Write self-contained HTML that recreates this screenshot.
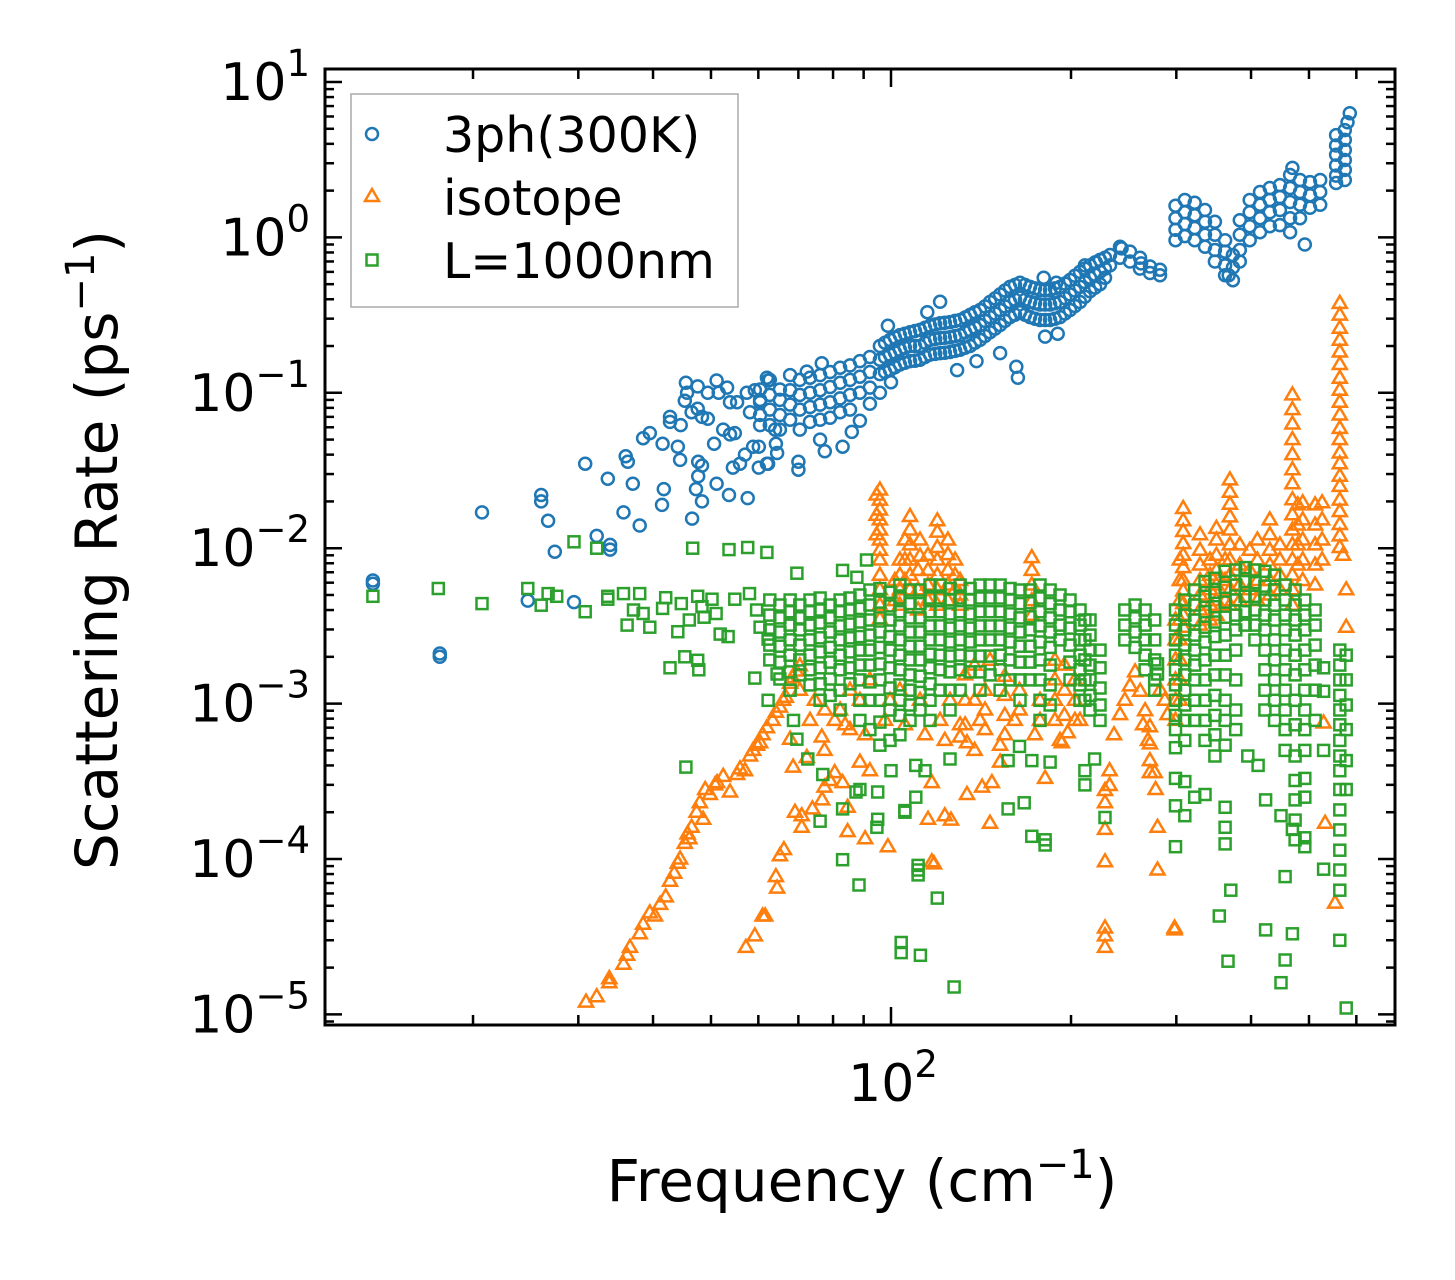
<!DOCTYPE html>
<html><head><meta charset="utf-8"><style>
html,body{margin:0;padding:0;background:#fff;}
svg text{font-family:"DejaVu Sans","Liberation Sans",sans-serif;fill:#000;}
</style></head><body>
<svg id="chart" width="1455" height="1275" viewBox="0 0 1455 1275" xmlns="http://www.w3.org/2000/svg">
<rect width="1455" height="1275" fill="#fff"/>
<g id="marks"></g>
<g id="axes"></g>
<g id="legend">
<rect x="351" y="94" width="387" height="213" fill="#fff" fill-opacity="0.8" stroke="#aaa" stroke-width="1.5"/>
<g><circle cx="372" cy="134" r="6" fill="none" stroke="#1f77b4" stroke-width="2.5"/><text x="443" y="152" font-size="49">3ph(300K)</text></g>
<g><path d="M372,189 l7,12 l-14,0 z" fill="none" stroke="#ff7f0e" stroke-width="2.5"/><text x="443" y="215" font-size="49">isotope</text></g>
<g><rect x="366.5" y="254.5" width="11" height="11" fill="none" stroke="#2ca02c" stroke-width="2.5"/><text x="443" y="278" font-size="49">L=1000nm</text></g>
</g>
<text x="862" y="1201" font-size="58" text-anchor="middle">Frequency (cm<tspan font-size="40" dy="-23">−1</tspan><tspan dy="23">)</tspan></text>
<text transform="translate(117,550) rotate(-90)" font-size="58" text-anchor="middle">Scattering Rate (ps<tspan font-size="40" dy="-23">−1</tspan><tspan dy="23">)</tspan></text>
</svg>
<script>
const blueFreq=[13.6,17.6,20.7,24.7,26.0,26.7,27.4,29.5,30.8,32.2,33.6,33.9,35.7,36.0,36.3,37.0,38.0,38.5,39.5,41.4,41.5,41.7,42.7,44.0,44.4,44.5,45.2,45.4,45.6,46.4,46.5,47.2,47.5,47.6,48.3,49.4,50.6,51.1,51.5,52.4,53.2,53.6,53.8,54.4,54.8,55.3,55.9,57.0,57.4,57.6,58.1,58.8,59.2,60.1,60.4,62.0,62.3,62.7,64.0,64.2,64.5,65.2,67.8,70.0,70.4,72.3,73.2,76.1,76.6,77.5,79.1,82.2,83.0,85.4,86.0,88.7,92.2,95.8,98.8,99.6,100,103.5,107.6,111.8,115,116.2,120.8,125.5,129,130.5,135.6,139,140.9,146.4,152.2,158.1,162,163,164.3,170.8,177.5,180,181,184.5,189,190,191.7,199.2,207,211,215.2,220,223.6,232.4,241.5,243,251,260.8,262,271.1,281.7,299,310,322,335,348,362,367,373,383,398,414,430,447,465,469,483,492,502,522,555,574,580,585,
97.7,101.5,105.5,109.7,114,118.5,123,128,133,138.2,143.6,149.3,155.1,161.2,167.5,174.1,181,188,195.4,203,211,219.4,228];
const blueRates=[[0.0062,0.0059],[0.0021,0.0020],[0.017],[0.0046],[0.022,0.020],[0.015],[0.0095],[0.0045],[0.035],[0.012],[0.028],[0.0098,0.0105],[0.017],[0.039],[0.036],[0.026],[0.014],[0.051],[0.055],[0.019],[0.047],[0.024],[0.07,0.065],[0.045],[0.037],[0.062],[0.089],[0.116],[0.10],[0.075],[0.0155],[0.024],[0.11,0.079],[0.036,0.029],[0.034,0.020,0.07],[0.10,0.068],[0.047],[0.026,0.12],[0.10],[0.058],[0.108],[0.022],[0.054,0.087],[0.033],[0.055],[0.087],[0.035],[0.040],[0.10],[0.021],[0.075],[0.045],[0.104],[0.045,0.033],[0.087,0.062,0.105,0.09,0.072],[0.035,0.125],[0.12,0.035],[0.121,0.097,0.078,0.062],[0.058],[0.047],[0.041],[0.105,0.09,0.072,0.058],[0.13,0.104,0.084,0.067],[0.032,0.036],[0.121,0.097,0.078,0.058],[0.137],[0.125,0.10,0.081,0.065],[0.13,0.104,0.084,0.067,0.05],[0.155],[0.042],[0.136,0.109,0.087,0.069],[0.145,0.116,0.092,0.075],[0.045],[0.15,0.121,0.097,0.078],[0.056],[0.16,0.127,0.10,0.066],[0.17,0.136,0.108,0.085],[0.2,0.163,0.132,0.10],[0.27],[0.219,0.176,0.14],[0.117],[0.235,0.189,0.152],[0.245,0.2,0.16],[0.254,0.2,0.163],[0.33],[0.27,0.219,0.176],[0.28,0.225,0.18,0.385],[0.285,0.228,0.183],[0.14],[0.294,0.235,0.189],[0.317,0.254,0.2],[0.16],[0.341,0.273,0.219],[0.384,0.307,0.245],[0.43,0.341,0.273,0.18],[0.48,0.384,0.307],[0.147],[0.125],[0.51,0.41,0.33],[0.48,0.384,0.307],[0.459,0.37,0.294],[0.55],[0.23],[0.459,0.37,0.294],[0.51],[0.24],[0.48,0.384,0.307],[0.532,0.43,0.341],[0.6,0.48,0.384],[0.66],[0.66,0.55,0.45],[0.69],[0.716,0.6,0.5],[0.77,0.66],[0.87,0.74],[0.85],[0.81,0.7],[0.74,0.63],[0.68],[0.65,0.59],[0.62,0.57],[1.6,1.33,1.12,0.96],[1.74,1.45,1.22,1.02],[1.67,1.39,1.15,0.96],[1.5,1.26,1.04,0.87],[1.26,1.04,0.83,0.70],[0.96,0.81,0.66,0.57],[0.57],[0.77,0.64,0.53],[1.29,1.04,0.83,0.7],[1.74,1.45,1.18,0.96],[1.96,1.62,1.33,1.08],[2.08,1.74,1.45,1.18],[2.17,1.82,1.5,1.2],[2.52,2.08,1.69,1.33,1.08],[2.8],[2.34,1.96,1.62,1.33],[0.9],[2.27,1.87,1.55],[2.34,1.96,1.62],[4.55,3.9,3.4,2.9,2.5,2.24],[4.9,4.24,3.65,3.15,2.72,2.34],[5.5],[6.3],
[0.21,0.17,0.136],[0.227,0.182,0.146],[0.24,0.195,0.156],[0.25,0.2,0.161],[0.262,0.21,0.17],[0.275,0.222,0.178],[0.282,0.226,0.181],[0.29,0.232,0.186],[0.305,0.245,0.195],[0.33,0.263,0.21],[0.36,0.29,0.232],[0.405,0.324,0.259],[0.455,0.36,0.29],[0.495,0.397,0.318],[0.495,0.397,0.318],[0.47,0.377,0.3],[0.459,0.37,0.294],[0.47,0.377,0.3],[0.505,0.407,0.324],[0.566,0.455,0.362],[0.63,0.515,0.415],[0.69,0.575,0.475],[0.74,0.63,0.55]];

const orangeFreq=[30.9,32.2,33.8,35.7,36.2,36.6,38.0,38.5,39.5,40.3,41.1,42.0,42.7,43.4,44.0,44.4,45.2,45.7,46.0,46.4,47.3,47.9,48.5,48.9,49.8,50.8,51.2,52.4,53.8,55.3,55.9,57.0,57.2,58.1,58.8,59.2,59.7,60.4,61.0,61.6,62.0,63.4,64.2,64.5,65.2,66.0,66.2,66.7,67.8,68.4,68.6,69.1,69.4,70.4,70.9,72.3,73.2,73.9,74.6,76.6,76.7,77.4,77.5,79.0,80.5,82.2,83.0,83.8,84.6,85.4,88.7,90.5,92.2,94.6,95.8,97.7,98.8,99.6,101.5,103.5,105.5,107.6,111.0,111.8,114.0,115.3,117.0,118.0,119.5,120.8,123.0,124.5,125.5,126.0,128.0,130.5,133.0,134.0,138.0,140.9,142.0,143.6,146.4,147.5,152.2,155.0,161.0,164.0,172.0,174.0,177.5,181.0,188.0,191.7,193.0,195.0,197.5,203.0,207.0,228.0,232.0,236.0,241.5,246.0,251.0,256.0,261.0,264.0,266.0,269.0,271.0,276.0,277.0,279.0,282.0,287.0,290.0,298.0,299.0,304.0,308.0,328.6,341.5,350.0,362.0,368.8,383.0,398.0,410.0,430.0,447.0,469.0,479.0,488.0,512.0,526.0,529.0,532.0,553.0,563.0,570.0,577.0];
const orangeRates=[[1.2e-5],[1.3e-5],[1.6e-5,1.7e-5],[2.1e-5],[2.4e-5],[2.7e-5],[3.3e-5],[3.8e-5],[4.5e-5],[4.3e-5],[5.1e-5],[5.7e-5],[7.2e-5],[8.1e-5],[9.4e-5],[1.0e-4],[1.26e-4],[1.45e-4],[1.35e-4],[1.6e-4],[2.0e-4],[2.3e-4],[1.8e-4],[2.8e-4],[2.6e-4],[3.0e-4],[3.1e-4],[3.4e-4],[2.7e-4],[3.5e-4],[3.8e-4],[3.7e-4],[2.7e-5],[4.6e-4],[5.0e-4],[3.2e-5],[5.4e-4],[5.6e-4],[6.3e-4,4.3e-5],[4.3e-5],[7.0e-4],[7.8e-4],[8.8e-4,7.7e-5],[6.5e-5],[9.5e-4,1.05e-4],[1.05e-3],[1.15e-4],[1.1e-3],[1.35e-3,5.9e-4],[1.47e-3],[3.9e-4],[2.0e-4],[1.62e-3],[1.75e-3,1.22e-3],[1.9e-4,1.6e-4],[4.5e-4],[7.8e-4],[2.1e-4],[1.05e-3],[6.1e-4],[2.4e-4],[2.9e-4,5.0e-4],[9.1e-4],[3.2e-4],[3.6e-4,7.8e-4],[9.1e-4],[3.1e-4],[7.3e-4],[2.15e-4,1.5e-4],[6.8e-4,1.22e-3],[4.2e-4,1.05e-3],[1.35e-4,6.3e-4],[3.7e-4,1.42e-3],[0.022,0.0163,0.0122],[0.0237,0.0204,0.0176,0.0152,0.0131,0.0113,0.0097,0.0084,0.0067,0.0054,0.0043,0.0035],[7.8e-4],[1.2e-4],[1.05e-3],[0.0062,0.0046],[0.0084,0.0067,0.0054,0.0043,1.22e-3],[0.0113,0.0084,0.0062,7.3e-4],[0.016,0.0131,0.0105,0.0084,0.0067,0.0054],[0.0072,0.0054,0.004],[0.0113,0.0089,1.05e-3],[6.3e-4],[0.009,0.0072,0.0058,0.0046,1.8e-4],[3.1e-4,9.6e-5],[9.3e-5],[0.015,0.0127,0.0101,0.0084,0.0067,0.0054,0.0043],[7.8e-4],[1.9e-4,5.8e-4],[0.0113,0.0091,0.0072,0.0058,0.0046],[1.05e-3],[1.78e-4],[0.0084,0.0067,0.0054],[0.0062,0.0050,0.0043,6.1e-4,7.3e-4],[1.53e-3,1.05e-3,7.3e-4],[5.6e-4,2.6e-4],[5.0e-4,1.77e-3,1.05e-3],[7.8e-4],[2.9e-4],[1.22e-3,9.1e-4,6.8e-4],[1.7e-4,1.9e-3],[3.1e-4],[4.2e-4,5.4e-4],[1.5e-3,1.13e-3,8.4e-4,6.3e-4],[7.8e-4],[1.22e-3,9.1e-4],[0.0087,0.0072,0.0058,0.0046,0.0037],[6.3e-4],[1.05e-3,7.8e-4],[3.3e-4],[1.9e-3,1.42e-3,1.05e-3,7.8e-4],[5.8e-4],[5.6e-4],[1.77e-3,1.22e-3,8.4e-4],[6.5e-4],[1.42e-3,1.05e-3,7.8e-4],[7.8e-4],[9.6e-5,1.55e-4,2.3e-4,2.76e-4,3.6e-5,2.7e-5,3.2e-5],[3.7e-4,2.97e-4],[6.3e-4],[8.5e-4],[1.05e-3],[1.3e-3],[1.6e-3],[1.2e-3],[7.3e-4],[9e-4],[5.8e-4],[7.1e-4,5.5e-4,4.3e-4,3.6e-4],[3.6e-4],[2.8e-4],[1.6e-4,8.5e-5],[1.22e-3],[1.05e-3],[8.5e-4],[3.5e-5,3.6e-5],[0.00345,0.00257,0.00191,0.00142,0.00105,7.8e-4],[0.0084,0.0062,0.0046,0.00345,0.00257,0.00191,0.00142,0.00105],[0.018,0.015,0.0128,0.0107,0.009,0.0075,0.0062,0.0053,0.0044,0.0037,0.0031],[0.0122,0.0097,0.0078,0.0062,0.005,0.004,0.0032],[0.0084,0.0067,0.0054,0.0043,0.00345],[0.0134,0.0113,0.009,0.0072,0.0058,0.0046,0.0037],[0.0084,0.0062,0.0046],[0.0275,0.0229,0.0192,0.0159,0.0131,0.0105,0.0084,0.0067,0.0054,0.0043],[0.0105,0.0078,0.0058,0.0046],[0.0097,0.0072,0.0054],[0.0113,0.0084,0.0062,0.0046],[0.0152,0.0122,0.0097,0.0078,0.0062,0.005],[0.0105,0.0084,0.0067,0.0054],[0.097,0.078,0.063,0.05,0.04,0.032,0.026,0.0205,0.0164,0.0131,0.0105,0.0084,0.0067,0.0054,0.0043],[0.019,0.0141,0.0105,0.0078],[0.0196,0.0152,0.0113,0.0084,0.0062],[0.019,0.0141,0.0105,0.0078,0.0058],[0.0196,0.0152,0.0113,0.0084],[7.5e-4],[1.7e-4],[5.2e-5],[0.376,0.316,0.26,0.218,0.183,0.152,0.124,0.104,0.087,0.072,0.059,0.05,0.041,0.035,0.029,0.025,0.0204,0.0172,0.0142,0.012,0.0101],[0.009],[0.0054,0.0031]];

const greenFreq=[13.6,17.5,20.7,24.7,26.0,26.7,27.6,29.5,30.8,32.2,33.6,35.7,36.2,37.1,38.0,38.5,39.5,41.5,42.0,42.7,44.0,44.6,45.2,45.4,46.0,46.6,47.5,47.7,48.3,48.7,50.2,51.0,51.8,53.4,53.6,54.8,57.6,58.0,59.2,59.6,60.4,62.0,62.3,62.7,64.5,65.2,67.8,68.7,69.6,70.4,72.6,73.2,76.1,76.9,79.1,82.2,83.0,85.4,87.4,87.7,88.4,88.7,91.0,92.2,94.7,95.0,95.8,99.6,100,103.5,104,105.5,107.6,110,111,111.8,112,114,116.2,119.5,120.8,125.5,127.5,130.5,135.6,140.9,146.4,152.2,157,158.1,164,164.3,167,170.8,172,177.5,181,184.5,191.7,199.2,207,211,215.2,219,223.6,228,246,256,266,276,279,299,310,322,335,348,354,362,366,370,377,391,395,406,411,422,423,438,449,456,469,474,492,512,529,563,577];
const greenRates=[[0.0049],[0.0055],[0.0044],[0.0055],[0.0043],[0.0051],[0.0049],[0.011],[0.0039],[0.010],[0.0049,0.0047],[0.0051],[0.0032],[0.0040],[0.0051],[0.0038],[0.0031],[0.0041],[0.0048],[0.0017],[0.0029],[0.0044],[0.0020],[3.9e-4],[0.00345],[0.010],[0.0049,0.0019],[0.00165],[0.0042],[0.0036],[0.0047],[0.0038],[0.0028],[0.0027],[0.0098],[0.0047],[0.0101],[0.0051],[0.00146],[0.0040],[0.0031],[0.0094],[0.0026,0.00105],[0.00464,0.00371,0.00298,0.00238,0.00191],[0.00155],[0.00431,0.00356,0.00289,0.00234,0.00185,0.00144],[0.00464,0.0039,0.0032,0.00257,0.00205,0.0016,0.00122],[7.8e-4],[5.9e-4,0.0069],[0.00431,0.00356,0.00298,0.00238,0.00191,0.00153],[4.4e-4],[0.00464,0.0039,0.0032,0.00257,0.00205,0.00165,0.00132],[0.00478,0.004,0.0033,0.00265,0.00215,0.0017,0.00134,0.00105,1.75e-4],[3.5e-4],[0.00431,0.00356,0.00289,0.0023,0.00185,0.00144,0.00113],[0.00464,0.0039,0.00316,0.00257,0.00205,0.00165,0.00122,9.1e-4],[0.0072,2.1e-4,9.9e-5],[0.00478,0.004,0.00325,0.00265,0.00215,0.0017,0.00134],[2.7e-4],[0.0065],[6.8e-5],[0.005,0.0041,0.00335,0.0027,0.00221,0.00177,0.00142,0.00105,7.8e-4,2.8e-4],[0.0084],[0.00538,0.00431,0.00345,0.00276,0.00221,0.00177,0.00138,0.00105,6.8e-4],[1.6e-4],[2.7e-4,1.8e-4],[0.0055,0.0045,0.00356,0.00289,0.0023,0.0018,0.00142,0.00105,7.6e-4,5.4e-4],[0.0052,0.00425,0.00345,0.0027,0.00221,0.0017,0.00126,9.1e-4,5.8e-4],[3.7e-4],[0.0058,0.00478,0.0039,0.00316,0.00257,0.00205,0.00165,0.00132,0.00105,8.4e-4,6.3e-4],[2.9e-5,2.5e-5],[2.0e-4,2.05e-4],[0.00538,0.0044,0.00356,0.00289,0.00234,0.00191,0.00153,0.00122,9.8e-4,7.8e-4],[4.0e-4,2.5e-4],[8.5e-5,7.9e-5,9.1e-5],[0.00538,0.0044,0.00356,0.00289,0.00234,0.00191,0.0015,0.00118,9.1e-4],[2.4e-5],[3.7e-4],[0.0058,0.00478,0.0039,0.00316,0.00257,0.00208,0.0017,0.00134,0.00105,7.8e-4],[5.6e-5],[0.0058,0.00478,0.0039,0.00316,0.00257,0.00205,0.00165,0.00122],[0.0055,0.00464,0.00378,0.00306,0.00249,0.00202,0.0016,0.00122,9.1e-4,4.4e-4],[1.5e-5],[0.0058,0.00478,0.0039,0.00316,0.00257,0.00205,0.00165,0.00122],[0.0055,0.00464,0.00378,0.00306,0.00249,0.00202,0.0016],[0.0058,0.00478,0.0039,0.00316,0.00257,0.00202,0.0016,0.00122],[0.0058,0.00478,0.0039,0.00316,0.00257,0.00202,0.00153],[0.0058,0.00478,0.0039,0.00316,0.00257,0.00205,0.00165,0.00122],[4.3e-4,2.1e-4],[0.0055,0.00464,0.00378,0.00306,0.00249,0.00191,0.00142],[5.3e-4],[0.00538,0.0044,0.00356,0.00289,0.00234,0.00185,0.00142,0.00105],[2.3e-4],[0.00538,0.00445,0.00362,0.00298,0.00234,0.00185,0.00142],[4.3e-4,1.4e-4],[0.0058,0.00478,0.0039,0.00316,0.00249,0.00191,0.00142,0.00105,7.8e-4],[1.33e-4,1.23e-4],[0.00538,0.0044,0.00356,0.00289,0.0023,0.00177,0.00132,9.8e-4,4.2e-4],[0.005,0.004,0.0032,0.00257],[0.00464,0.0039,0.00306,0.00238,0.00185,0.00142],[0.004,0.0032,0.00257,0.00205,0.00165,0.00132,0.00105],[0.00345,0.00257,0.00191,0.00142,0.00105,3.7e-4,3.0e-4],[0.00345,0.00276,0.00221,0.00177,0.00142,0.00113,9.1e-4],[4.4e-4],[0.00221,0.0017,0.00126,9.8e-4,7.8e-4],[1.85e-4],[0.004,0.0032,0.00257],[0.00431,0.00356,0.00289,0.0023],[0.004,0.0032,0.00257,0.00205,0.00165],[0.00345,0.00257,0.00191,0.00142,0.00122],[0.0018,0.00155],[0.004,0.0032,0.00257,0.00205,0.00165,0.00132,0.00105,8.4e-4,6.8e-4,5.2e-4,3.3e-4,2.2e-4,1.2e-4],[0.00464,0.00371,0.00298,0.00238,0.00191,0.00153,0.00122,9.8e-4,7.8e-4,5.8e-4,3.15e-4,1.9e-4],[0.00538,0.00431,0.00345,0.00276,0.00221,0.00177,0.00142,0.00105,7.8e-4,2.5e-4],[0.0061,0.0049,0.0039,0.0031,0.00249,0.00191,0.00142,0.00105,7.8e-4,5.8e-4,2.6e-4],[0.0064,0.0052,0.0042,0.00335,0.0027,0.00205,0.00153,0.00113,8.4e-4,6.3e-4,4.6e-4],[4.3e-5],[0.0071,0.0056,0.0045,0.0036,0.00276,0.00205,0.00153,0.00105,7.8e-4,5.4e-4,2.15e-4,1.6e-4,1.25e-4],[2.2e-5],[6.3e-5],[0.00724,0.0058,0.00464,0.00371,0.00298,0.00221,0.00142,9.1e-4,6.8e-4],[0.0075,0.0061,0.0049,0.0039,0.0032],[4.6e-4],[0.00724,0.006,0.0049,0.004,0.0032,0.00257],[4.0e-4],[0.0071,0.0057,0.00464,0.00371,0.00298,0.00221,0.00165,0.00122,9.1e-4],[2.4e-4,3.5e-5],[0.0067,0.0054,0.0043,0.00345,0.00257,0.00191,0.00142,0.00105,7.8e-4],[1.9e-4,1.6e-5],[0.0058,0.00464,0.00371,0.00298,0.00221,0.00165,0.00122,9.1e-4,6.8e-4,5.0e-4,7.7e-5,2.24e-5],[1.55e-4,3.3e-5],[0.00538,0.00431,0.00345,0.00276,0.00205,0.00153,0.00105,7.3e-4,4.6e-4,3.2e-4,2.4e-4,1.78e-4,1.33e-4],[0.00464,0.00371,0.00298,0.00221,0.00165,0.00122,9.1e-4,6.8e-4,5.0e-4,3.3e-4,2.5e-4,1.37e-4,1.2e-4],[0.004,0.0032,0.00238,0.00177,0.00122,7.8e-4],[1.2e-3,1.7e-3,5.0e-4,8.6e-5],[0.00221,0.00177,0.00142,0.00113,9.1e-4,7.3e-4,5.8e-4,4.6e-4,3.7e-4,2.8e-4,2.07e-4,1.54e-4,1.14e-4,8.5e-5,6.3e-5,3.0e-5],[0.00205,0.00142,9.8e-4,6.8e-4,4.3e-4,2.8e-4,1.1e-5]];

const yTickExps=[-5,-4,-3,-2,-1,0,1];
const yTickLabels=["−5","−4","−3","−2","−1","0","1"];
const xMajorTicks=[100];
const xMajorLabels=["2"];
const xMinorTicks=[20,30,40,50,60,70,80,90,200,300,400,500,600];

const NS="http://www.w3.org/2000/svg";
const L=325,R=1395,T=69,B=1025;
function X(f){return 891+598*(Math.log10(f)-2);}
function Y(r){return 237.4-155.4*Math.log10(r);}
function mk(tag,attrs,parent){const e=document.createElementNS(NS,tag);for(const k in attrs)e.setAttribute(k,attrs[k]);parent.appendChild(e);return e;}
const marks=document.getElementById('marks');
const axes=document.getElementById('axes');

function drawSeries(freqs,rates,kind,color,name){
  const g=mk('g',{fill:'none',stroke:color,'stroke-width':2.5},marks);
  
  
  freqs.forEach((f,i)=>{
    rates[i].forEach(r=>{
      const x=X(f),y=Y(r);
      let e;
      if(kind==='circle'){e=mk('circle',{cx:x.toFixed(1),cy:y.toFixed(1),r:6},g);}
      else if(kind==='tri'){e=mk('path',{d:`M${x.toFixed(1)},${(y-7.5).toFixed(1)} l7,12 l-14,0 z`},g);}
      else {e=mk('rect',{x:(x-5.5).toFixed(1),y:(y-5.5).toFixed(1),width:11,height:11},g);}
      
      
    });
  });
}
drawSeries(blueFreq,blueRates,'circle','#1f77b4','series-3ph');
drawSeries(orangeFreq,orangeRates,'tri','#ff7f0e','series-isotope');
drawSeries(greenFreq,greenRates,'square','#2ca02c','series-boundary');

const tg=mk('g',{stroke:'#000','stroke-width':2.5},axes);


for(let e=-6;e<=1;e++){
  for(let k=1;k<=9;k++){
    const y=Y(k*Math.pow(10,e));
    if(y<T+1||y>B-1)continue;
    const len=k===1?17:9;
    mk('line',{x1:L,x2:L+len,y1:y,y2:y},tg);
    mk('line',{x1:R,x2:R-len,y1:y,y2:y},tg);
  }
}
xMinorTicks.concat(xMajorTicks).forEach(f=>{
  const x=X(f);const len=xMajorTicks.includes(f)?18:10;
  mk('line',{x1:x,x2:x,y1:B,y2:B-len},tg);
  mk('line',{x1:x,x2:x,y1:T,y2:T+len},tg);
});
const sp=mk('rect',{x:L,y:T,width:R-L,height:B-T,fill:'none',stroke:'#000','stroke-width':3},axes);


yTickExps.forEach((e,i)=>{
  const y=Y(Math.pow(10,e));
  const t=mk('text',{x:310,y:y+18,'font-size':52,'text-anchor':'end'},axes);
  
  
  t.innerHTML='10<tspan font-size="37" dy="-24">'+yTickLabels[i]+'</tspan>';
});
xMajorTicks.forEach((f,i)=>{
  const t=mk('text',{x:X(f)+2,y:1101,'font-size':52,'text-anchor':'middle'},axes);
  
  
  t.innerHTML='10<tspan font-size="37" dy="-24">'+xMajorLabels[i]+'</tspan>';
});
</script>
</body></html>
